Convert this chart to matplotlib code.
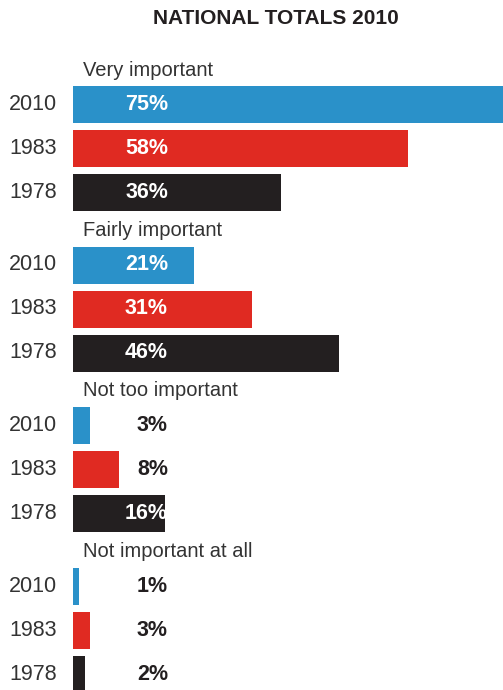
import matplotlib
matplotlib.use("Agg")
import matplotlib.pyplot as plt

groups = ["Very important", "Fairly important", "Not too important", "Not important at all"]
years = ["2010", "1983", "1978"]
values = {
    "2010": [75, 21, 3, 1],
    "1983": [58, 31, 8, 3],
    "1978": [36, 46, 16, 2],
}
colors = {"2010": "#2a91c9", "1983": "#e02a22", "1978": "#231f20"}
title = "NATIONAL TOTALS 2010"

W, H = 503, 690
fig = plt.figure(figsize=(W / 100, H / 100), dpi=100)
ax = fig.add_axes([0, 0, 1, 1])
PX = 5.78  # pixels per percent
x0 = 73
ax.set_xlim(-x0 / PX, (W - x0) / PX)
ax.set_ylim(H, 0)
ax.axis("off")

font = "Liberation Sans"
dark = "#231f20"
label_x = (168 - x0) / PX
year_x = (57 - x0) / PX

for g, gname in enumerate(groups):
    top = 86 + g * 160.5
    ax.text((83 - x0) / PX, top - 16, gname, ha="left", va="center",
            fontsize=14.5, family=font, color="#333333")
    for r, yr in enumerate(years):
        yc = top + r * 44 + 18.5
        v = values[yr][g]
        ax.barh(yc, v, height=37, left=0, color=colors[yr], clip_on=True)
        ax.text(year_x, yc, yr, ha="right", va="center", fontsize=15.5,
                family=font, color="#333333")
        inside = v >= 16
        ax.text(label_x, yc, f"{v}%", ha="right", va="center", fontsize=15.5,
                fontweight="bold", family=font,
                color="white" if inside else dark)

ax.text((276 - x0) / PX, 18, title, ha="center", va="center", fontsize=15,
        fontweight="bold", family=font, color=dark)

fig.savefig("out.png", dpi=100)
